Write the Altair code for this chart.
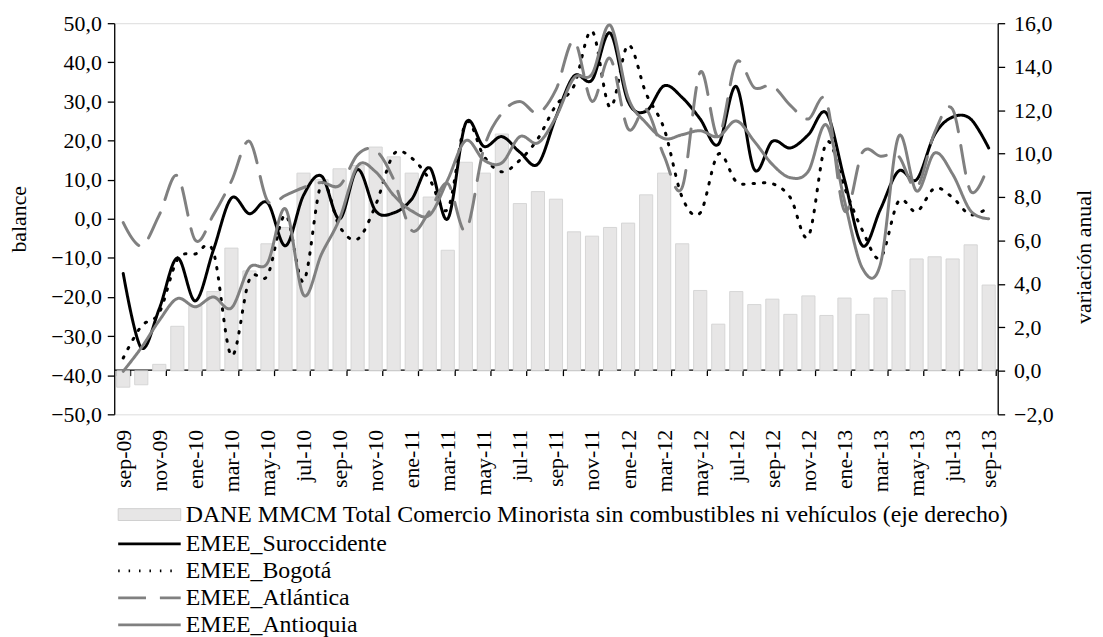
import altair as alt
import pandas as pd

meses = ["sep-09", "oct-09", "nov-09", "dic-09", "ene-10", "feb-10", "mar-10", "abr-10",
         "may-10", "jun-10", "jul-10", "ago-10", "sep-10", "oct-10", "nov-10", "dic-10",
         "ene-11", "feb-11", "mar-11", "abr-11", "may-11", "jun-11", "jul-11", "ago-11",
         "sep-11", "oct-11", "nov-11", "dic-11", "ene-12", "feb-12", "mar-12", "abr-12",
         "may-12", "jun-12", "jul-12", "ago-12", "sep-12", "oct-12", "nov-12", "dic-12",
         "ene-13", "feb-13", "mar-13", "abr-13", "may-13", "jun-13", "jul-13", "ago-13",
         "sep-13"]

dane = [-0.75, -0.64, 0.3, 2.05, 3.0, 3.65, 5.65, 4.6, 5.85, 6.6, 9.1, 8.8,
        9.3, 9.45, 10.3, 9.85, 9.1, 8.0, 5.55, 9.6, 9.1, 10.9, 7.7, 8.25,
        7.9, 6.4, 6.2, 6.6, 6.8, 8.1, 9.1, 5.85, 3.7, 2.15, 3.65, 3.05,
        3.3, 2.6, 3.45, 2.55, 3.35, 2.6, 3.35, 3.7, 5.15, 5.25, 5.15, 5.8,
        3.95]

suroccidente = [-14, -33, -23, -10, -21, -8, 5.3, 1.3, 4.1, -6.9, 6, 10.9,
                0, 12.6, 2, 1.5, 5, 13, 0, 24.5, 18.5, 21, 17, 14,
                26, 36.5, 35.5, 47.5, 30, 27.5, 34, 31, 25.5, 19, 33.8, 12.6,
                19.8, 18.1, 21.5, 27, 10, -6.9, 2.5, 12.2, 10, 21.5, 26, 25.5,
                18.1]

bogota = [-35.6, -27.5, -24, -10.5, -9, -8.5, -35, -15.5, -14.5, 1, -16, 9,
          -2, -5.2, 3.5, 16.5, 15.5, 10, 2.5, 24.5, 16, 12, 15, 20.5,
          29, 34, 48, 28.5, 44.4, 32, 23, 5.5, 1.5, 16.5, 9.5, 9,
          9, 5.4, -4.5, 19.5, 8, -3, -10, 4.5, 1.8, 7.8, 5.4, 1,
          3]

atlantica = [-1, -7, 1, 11, -5.5, 1, 9.6, 19.8, 4.6, 6, 8, 9.3,
             8.5, 16.4, 17.5, 10, -3, 2, 9, -3, 18, 27, 30, 27,
             33, 45.5, 30, 41, 23, 28, 16, 8, 37.5, 21, 40, 33.5,
             34, 29, 25.5, 30, 2, 17, 16, 16, 8, 22, 28, 7,
             14]

antioquia = [-39, -33, -26, -20.4, -22.5, -20, -22.8, -12.5, -11.3, 2.5, -19.5, -9,
             0, 13.5, 12, 6, 2, 1, 10, 20, 15, 14.3, 21, 19.4,
             26, 36, 37, 49.5, 31, 24.5, 20.5, 21.5, 22.5, 21, 25, 19.8,
             13.9, 10.5, 12.2, 24, 4.6, -12.7, -11.5, 21, 7.1, 16.8, 11.4, 2,
             0]

serie_dane = "DANE MMCM Total Comercio Minorista sin combustibles ni vehículos (eje derecho)"
series = ["EMEE_Suroccidente", "EMEE_Bogotá", "EMEE_Atlántica", "EMEE_Antioquia"]
colores = ["#000000", "#000000", "#808080", "#808080"]
trazos = [[1, 0], [1.5, 9], [28, 14], [1, 0]]
etiquetas = meses[::2]

bars_df = pd.DataFrame({"mes": meses, "valor": dane, "serie": serie_dane})
lines_df = pd.concat(
    [pd.DataFrame({"mes": meses, "valor": v, "serie": s})
     for s, v in zip(series, [suroccidente, bogota, atlantica, antioquia])],
    ignore_index=True,
)

FONT = "Liberation Serif"
FS = 22
LFS = 24
coma = "replace(format(datum.value, '.1f'), '.', ',')"

x_axis = alt.Axis(
    values=etiquetas, labelAngle=-90, tickBand="extent", offset=-45,
    labelPadding=54, domainColor="black", domainWidth=1.3, tickColor="black",
    tickWidth=1.3, tickSize=6, title=None, labelFont=FONT, labelFontSize=FS,
    labelColor="black", grid=False,
)
x_enc = alt.X("mes:N", sort=meses,
              scale=alt.Scale(paddingInner=0.27, paddingOuter=0.135),
              axis=x_axis)

leyenda_barras = alt.Legend(
    title=None, orient="none", legendX=3.5, legendY=463,
    symbolType="M-1,-0.19H1V0.19H-1Z", symbolSize=3969,
    symbolStrokeColor="#d0d0d0", symbolStrokeWidth=1,
    labelFont=FONT, labelFontSize=LFS, labelColor="black",
    labelOffset=4.5, padding=0, labelLimit=0,
)

bars = alt.Chart(bars_df).mark_bar(stroke="#d6d6d6", strokeWidth=1).encode(
    x=x_enc,
    y=alt.Y("valor:Q",
            scale=alt.Scale(domain=[-2, 16], nice=False, zero=False),
            axis=alt.Axis(orient="right", values=list(range(-2, 17, 2)),
                          labelExpr=coma, title="variación anual", grid=False,
                          domainColor="black", domainWidth=1.3, tickColor="black",
                          tickWidth=1.3, tickSize=7, labelPadding=9,
                          labelFont=FONT, labelFontSize=FS, labelColor="black",
                          titleFont=FONT, titleFontSize=FS, titleFontWeight="normal",
                          titleColor="black", titlePadding=21, titleY=235,
                          titleAngle=270, titleBaseline="top")),
    fill=alt.Fill("serie:N", scale=alt.Scale(domain=[serie_dane], range=["#e7e6e6"]),
                  legend=leyenda_barras),
)

leyenda_lineas = alt.Legend(
    title=None, orient="none", legendX=22, legendY=511,
    symbolType="M-2.625,0H2.625", symbolSize=576, symbolStrokeWidth=3,
    rowPadding=1.2, labelFont=FONT, labelFontSize=LFS, labelColor="black",
    labelOffset=23, padding=0, labelLimit=0,
)

lines = alt.Chart(lines_df).mark_line(
    interpolate="cardinal", strokeCap="round", strokeWidth=3
).encode(
    x=alt.X("mes:N", sort=meses),
    y=alt.Y("valor:Q",
            scale=alt.Scale(domain=[-50, 50], nice=False),
            axis=alt.Axis(orient="left", values=list(range(-50, 51, 10)),
                          labelExpr=coma, title="balance", grid=False,
                          domainColor="black", domainWidth=1.3, tickColor="black",
                          tickWidth=1.3, tickSize=7, labelPadding=6,
                          labelFont=FONT, labelFontSize=FS, labelColor="black",
                          titleFont=FONT, titleFontSize=FS, titleFontWeight="normal",
                          titleColor="black", titlePadding=20)),
    color=alt.Color("serie:N", scale=alt.Scale(domain=series, range=colores),
                    legend=leyenda_lineas),
    strokeDash=alt.StrokeDash("serie:N", scale=alt.Scale(domain=series, range=trazos),
                              legend=leyenda_lineas),
)

chart = alt.layer(bars, lines).resolve_scale(y="independent").properties(
    width=890, height=394,
    autosize=alt.AutoSizeParams(type="none"),
    padding={"left": 107, "top": 13, "right": 98, "bottom": 222},
).configure_view(stroke=None).configure(
    background="white", font=FONT
).configure_legend(labelFont=FONT).configure_axis(labelFont=FONT, titleFont=FONT)

chart.save("out.html", embed_options={"renderer": "svg", "actions": False})
